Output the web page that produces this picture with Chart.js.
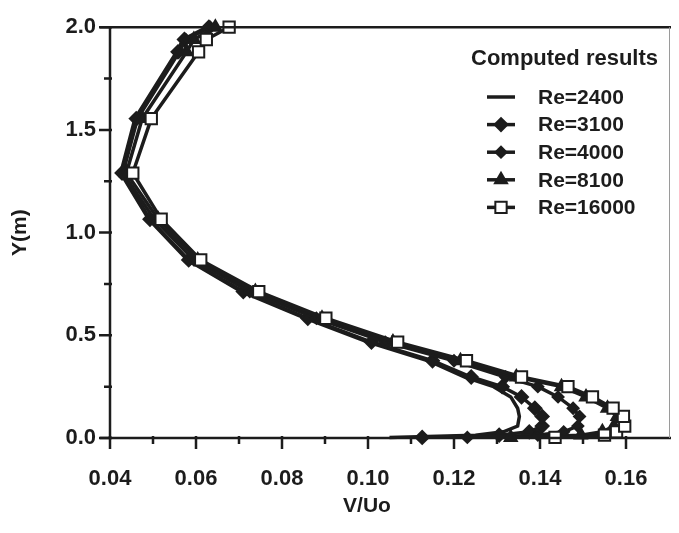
<!DOCTYPE html>
<html><head><meta charset="utf-8">
<script src="https://cdn.jsdelivr.net/npm/chart.js@4/dist/chart.umd.min.js"></script>
<style>html,body{margin:0;padding:0;background:#fff;}#wrap{width:679px;height:533px;}</style>
</head><body><div id="wrap"><canvas id="c" width="679" height="533"></canvas></div>
<script>
// ---- data ----
const yValues = [0.003, 0.014, 0.03, 0.058, 0.105, 0.145, 0.20, 0.25, 0.297, 0.376, 0.467, 0.583, 0.713, 0.867, 1.065, 1.29, 1.555, 1.88, 1.94, 2.0];
const re2400  = [0.1050, 0.1250, 0.1315, 0.1348, 0.1352, 0.1348, 0.1332, 0.1292, 0.1225, 0.1140, 0.1000, 0.0855, 0.0705, 0.0580, 0.0490, 0.0425, 0.0458, 0.0555, 0.0570, 0.0625];
const re3100  = [0.1126, 0.1305, 0.1375, 0.1405, 0.1405, 0.1388, 0.1357, 0.1312, 0.1240, 0.1150, 0.1008, 0.0860, 0.0710, 0.0583, 0.0493, 0.0428, 0.0461, 0.0558, 0.0573, 0.0630];
const re4000  = [0.1231, 0.1395, 0.1455, 0.1488, 0.1492, 0.1477, 0.1442, 0.1395, 0.1320, 0.1200, 0.1040, 0.0880, 0.0725, 0.0595, 0.0503, 0.0430, 0.0464, 0.0561, 0.0576, 0.0633];
const re8100  = [0.1332, 0.1495, 0.1545, 0.1572, 0.1580, 0.1557, 0.1507, 0.1450, 0.1345, 0.1215, 0.1058, 0.0893, 0.0738, 0.0604, 0.0512, 0.0438, 0.0475, 0.0578, 0.0595, 0.0645];
const re16000 = [0.1435, 0.1550, 0.1578, 0.1597, 0.1594, 0.1570, 0.1522, 0.1465, 0.1357, 0.1229, 0.1069, 0.0902, 0.0746, 0.0611, 0.0519, 0.0453, 0.0496, 0.0606, 0.0624, 0.0677];
const seriesLabels = ['Re=2400', 'Re=3100', 'Re=4000', 'Re=8100', 'Re=16000'];
const xTickValues = [0.04, 0.06, 0.08, 0.10, 0.12, 0.14, 0.16];
const xTickLabels = ['0.04', '0.06', '0.08', '0.10', '0.12', '0.14', '0.16'];
const yTickValues = [0.0, 0.5, 1.0, 1.5, 2.0];
const yTickLabels = ['0.0', '0.5', '1.0', '1.5', '2.0'];
const legendTitle = 'Computed results';
const xTitle = 'V/Uo';
const yTitle = 'Y(m)';

// ---- styling ----
const INK = '#1c1c1c';
const FONT = "'Liberation Sans', Arial, Helvetica, sans-serif";
const seriesValues = [re2400, re3100, re4000, re8100, re16000];
const styles = [
  {pointStyle: false, radius: 0, bg: INK, order: 4},
  {pointStyle: 'rectRot', radius: 6.5, bg: INK, order: 3},
  {pointStyle: 'rectRot', radius: 5.5, bg: INK, order: 2},
  {pointStyle: 'triangle', radius: 7, bg: INK, order: 1},
  {pointStyle: 'rect', radius: 8, bg: '#ffffff', order: 0}
];

const datasets = seriesValues.map((vals, i) => ({
  label: seriesLabels[i],
  data: vals.map((v, k) => ({x: v, y: yValues[k]})),
  showLine: true,
  borderColor: INK,
  borderWidth: 3.5,
  tension: 0,
  pointStyle: styles[i].pointStyle || 'circle',
  pointRadius: styles[i].radius,
  pointBackgroundColor: styles[i].bg,
  pointBorderColor: INK,
  pointBorderWidth: 2,
  clip: false,
  order: styles[i].order
}));

const frame = {
  id: 'frame',
  afterDraw(chart) {
    const {ctx, chartArea: a, scales: {x, y}} = chart;
    ctx.save();
    ctx.strokeStyle = INK;
    ctx.lineCap = 'butt';
    // axes box
    ctx.lineWidth = 2.5;
    ctx.beginPath();
    ctx.moveTo(a.left, a.top); ctx.lineTo(a.left, a.bottom + 1);
    ctx.moveTo(a.left - 10, a.bottom); ctx.lineTo(a.right + 2, a.bottom);
    ctx.moveTo(a.left - 10, a.top); ctx.lineTo(a.right + 2, a.top);
    ctx.stroke();
    ctx.lineWidth = 1;
    ctx.strokeStyle = '#9a9a9a';
    ctx.beginPath();
    ctx.moveTo(a.right + 0.5, a.top); ctx.lineTo(a.right + 0.5, a.bottom);
    ctx.stroke();
    // ticks
    ctx.strokeStyle = INK;
    ctx.lineWidth = 2.5;
    ctx.beginPath();
    for (let k = 4; k <= 16; k++) {
      const px = x.getPixelForValue(k / 100);
      const major = k % 2 === 0;
      ctx.moveTo(px, a.bottom - 2);
      ctx.lineTo(px, a.bottom + (major ? 11 : 6));
    }
    for (let k = 0; k <= 8; k++) {
      const py = y.getPixelForValue(k * 0.25);
      const major = k % 2 === 0;
      ctx.moveTo(a.left + 2, py);
      ctx.lineTo(a.left - (major ? 11 : 6), py);
    }
    ctx.stroke();
    // x axis title
    ctx.fillStyle = INK;
    ctx.font = 'bold 21px ' + FONT;
    ctx.textAlign = 'center';
    ctx.textBaseline = 'middle';
    ctx.fillText(xTitle, 367, 506);
    // legend
    ctx.textAlign = 'left';
    ctx.font = 'bold 22px ' + FONT;
    ctx.fillText(legendTitle, 471, 59);
    ctx.font = 'bold 21px ' + FONT;
    chart.data.datasets.forEach((ds, i) => {
      const cy = 97 + i * 27.6;
      ctx.strokeStyle = INK;
      ctx.lineWidth = 3.5;
      ctx.beginPath();
      ctx.moveTo(487, cy); ctx.lineTo(515, cy);
      ctx.stroke();
      if (ds.pointRadius > 0) {
        ctx.fillStyle = ds.pointBackgroundColor;
        ctx.strokeStyle = ds.pointBorderColor;
        ctx.lineWidth = ds.pointBorderWidth;
        Chart.helpers.drawPoint(ctx, {pointStyle: ds.pointStyle, radius: ds.pointRadius, rotation: 0, borderWidth: ds.pointBorderWidth}, 501, cy);
      }
      ctx.fillStyle = INK;
      ctx.fillText(ds.label, 538, cy + 1);
    });
    ctx.restore();
  }
};

new Chart(document.getElementById('c'), {
  type: 'scatter',
  data: {datasets},
  options: {
    responsive: false,
    devicePixelRatio: 1,
    animation: false,
    layout: {padding: {left: 8, top: 23, right: 2, bottom: 0}},
    plugins: {legend: {display: false}, tooltip: {enabled: false}},
    scales: {
      x: {
        type: 'linear', min: 0.04, max: 0.17,
        border: {display: false},
        grid: {display: false, drawTicks: false},
        afterBuildTicks: s => { s.ticks = xTickValues.map(v => ({value: v})); },
        afterFit: s => { s.height = 95; },
        ticks: {
          color: INK, padding: 28,
          font: {family: FONT, size: 22, weight: 'bold'},
          callback: (v, i) => xTickLabels[i]
        }
      },
      y: {
        type: 'linear', min: 0, max: 2.0,
        border: {display: false},
        grid: {display: false, drawTicks: false},
        afterBuildTicks: s => { s.ticks = yTickValues.map(v => ({value: v})); },
        afterFit: s => { s.width = 102; },
        ticks: {
          color: INK, padding: 14,
          font: {family: FONT, size: 22, weight: 'bold'},
          callback: (v, i) => yTickLabels[i]
        },
        title: {
          display: true, text: yTitle, color: INK, padding: {top: 0, bottom: 0},
          font: {family: FONT, size: 21, weight: 'bold'}
        }
      }
    }
  },
  plugins: [frame]
});
</script>
</body></html>
